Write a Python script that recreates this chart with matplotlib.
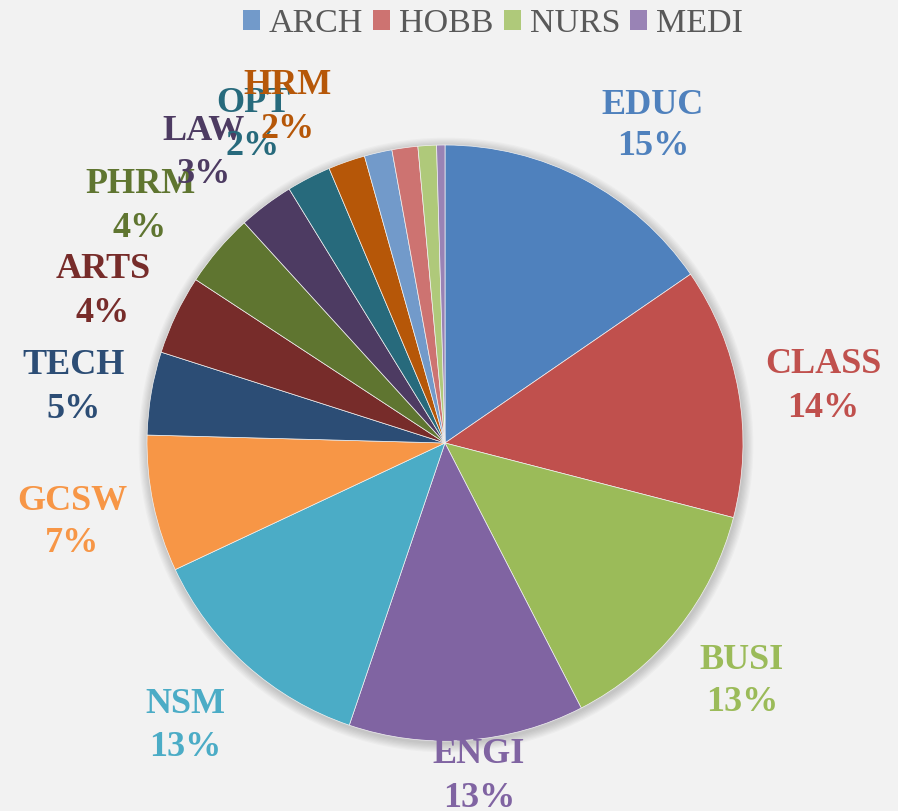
import matplotlib
matplotlib.use("Agg")
import matplotlib.pyplot as plt
from matplotlib.patches import Patch, Circle

categories = ["EDUC", "CLASS", "BUSI", "ENGI", "NSM", "GCSW", "TECH", "ARTS",
              "PHRM", "LAW", "OPT", "HRM", "ARCH", "HOBB", "NURS", "MEDI"]
shares = [15.4, 13.6, 13.4, 12.75, 12.8, 7.4, 4.5, 4.3,
          4.0, 3.0, 2.4, 2.0, 1.5, 1.4, 1.0, 0.45]
colors = ["#4F81BD", "#C0504D", "#9BBB59", "#8064A2", "#4BACC6", "#F79646",
          "#2C4D75", "#772C2A", "#5F7530", "#4D3B62", "#276A7C", "#B65708",
          "#729ACA", "#CD7371", "#AFC97A", "#9983B5"]
legend_cats = ["ARCH", "HOBB", "NURS", "MEDI"]

# label layout (pixel positions: x centre, name baseline, percent baseline)
label_pos = {
    "EDUC": (653, 114, 155), "CLASS": (823, 373, 417), "BUSI": (742, 669, 711),
    "ENGI": (479, 763, 807), "NSM": (185, 713, 756), "GCSW": (72, 510, 552),
    "TECH": (74, 374, 418), "ARTS": (103, 278, 322), "PHRM": (140, 193, 237),
    "LAW": (204, 140, 183), "OPT": (253, 112, 155), "HRM": (288, 94, 138),
}

W, H = 898, 811
fig = plt.figure(figsize=(W / 100, H / 100), dpi=100)
fig.patch.set_facecolor("#F2F2F2")
ax = fig.add_axes([0, 0, 1, 1])
ax.set_facecolor("#F2F2F2")

cx, cy, R = 445, -443, 298
# soft shadow
for i in range(8):
    ax.add_patch(Circle((cx + 1, cy - 2), R + 1 + i * 1.2, color="#000000",
                        alpha=0.025, lw=0, zorder=0))

wedges, _ = ax.pie(shares, colors=colors, startangle=90, counterclock=False,
                   center=(cx, cy), radius=R, frame=True,
                   wedgeprops=dict(linewidth=0.5, edgecolor="#F2F2F2"))
ax.set_xlim(0, W)
ax.set_ylim(-H, 0)
ax.set_aspect("equal")
ax.axis("off")

total = sum(shares)
serif = ["Liberation Serif", "DejaVu Serif"]
for cat, val, col in zip(categories, shares, colors):
    if cat not in label_pos:
        continue
    x, yb1, yb2 = label_pos[cat]
    ax.text(x, -yb1, cat, ha="center", va="baseline", fontsize=26,
            fontweight="bold", family=serif, color=col, zorder=5)
    ax.text(x, -yb2, f"{round(val / total * 100):.0f}%", ha="center",
            va="baseline", fontsize=26, fontweight="bold", family=serif,
            color=col, zorder=5)

handles = [Patch(facecolor=colors[categories.index(c)], edgecolor="none", label=c)
           for c in legend_cats]
leg = fig.legend(handles=handles, loc="center", bbox_to_anchor=(493 / W, 1 - 24 / H),
                 ncol=4, frameon=False, prop=dict(family=serif, size=24.5),
                 handlelength=0.5, handleheight=0.55, handletextpad=0.26,
                 columnspacing=0.3, borderpad=0, borderaxespad=0)
for t in leg.get_texts():
    t.set_color("#595959")

fig.savefig("out.png", dpi=100, facecolor=fig.get_facecolor())
